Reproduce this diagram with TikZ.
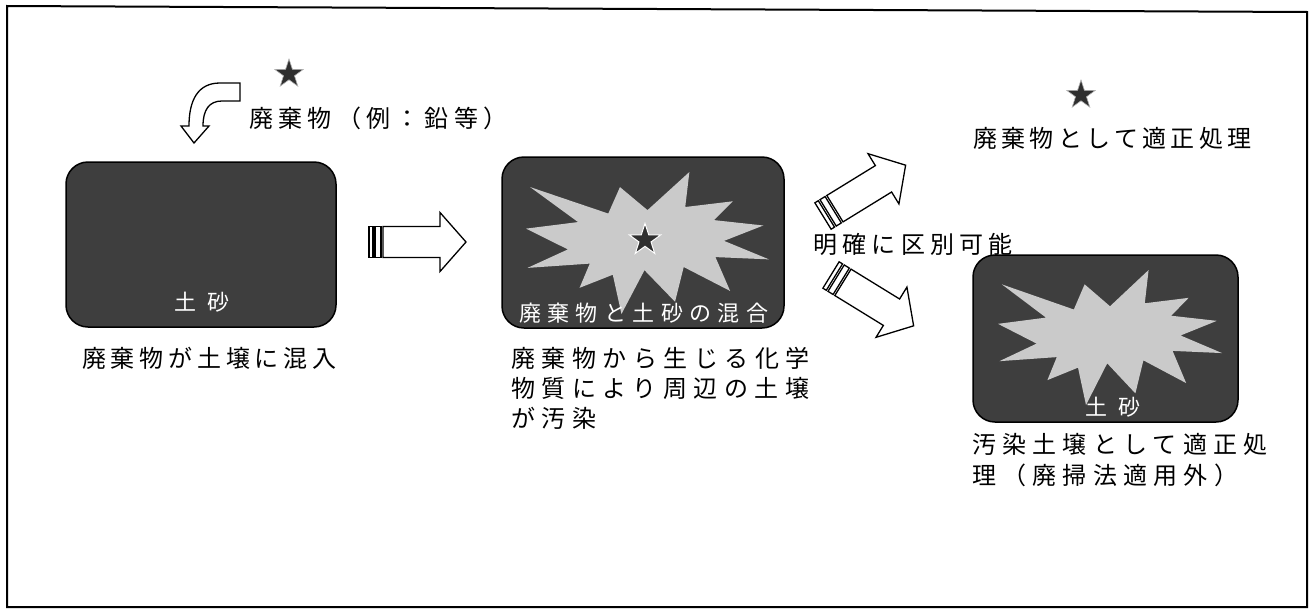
\documentclass[tikz,border=0pt]{standalone}
\usepackage{fontspec}
\usetikzlibrary{shapes.geometric}
\newfontfamily\jpn{Noto Sans CJK JP}
\newfontfamily\jpa{Noto Sans CJK JP}[LetterSpace=20]
\newfontfamily\jpb{Noto Sans CJK JP}[LetterSpace=27]
\newfontfamily\jpc{Noto Sans CJK JP}[LetterSpace=22]
\newfontfamily\jpe{Noto Sans CJK JP}[LetterSpace=18]
\newfontfamily\jpf{Noto Sans CJK JP}[LetterSpace=26]
\newfontfamily\jpd{Noto Sans CJK JP}[LetterSpace=29]
\definecolor{boxgray}{HTML}{3E3E3E}
\definecolor{burstgray}{HTML}{CACACA}
\definecolor{stargray}{HTML}{2F2F2F}
\newcommand\burstshape[4]{%
  \begin{scope}[shift={(#1,#2)},xscale=#3,yscale=#4]
    \fill[burstgray] (0.5,0.2685) -- (0.6723,0) -- (0.6553,0.2465) -- (0.8509,0.2063) -- (0.7733,0.3387) -- (0.9767,0.3767) -- (0.8151,0.4850) -- (1,0.6153) -- (0.7795,0.5992) -- (0.8400,0.8377) -- (0.6491,0.6693) -- (0.6133,0.9138) -- (0.4876,0.6914) -- (0.3928,1) -- (0.3572,0.7235) -- (0.2205,0.8156) -- (0.2624,0.6452) -- (0.0063,0.6753) -- (0.1723,0.5451) -- (0,0.3988) -- (0.2142,0.3526) -- (0.0171,0.1063) -- (0.3385,0.2926) -- (0.3867,0.1063) -- cycle;
  \end{scope}}
\tikzset{
  blockarrow/.style={draw=black,line width=1.3pt,fill=white,line join=miter},
  sarrow/.pic={
    \draw[blockarrow] (0,-15.5) rectangle (4,15.5);
    \draw[blockarrow] (6,-15.5) rectangle (12,15.5);
    \draw[blockarrow] (14,-15.5) -- (71,-15.5) -- (71,-29.5) -- (97,0) -- (71,29.5) -- (71,15.5) -- (14,15.5) -- cycle;
  }
}
\begin{document}
\begin{tikzpicture}[x=1pt,y=-1pt,
  box/.style={draw=black,line width=1.5pt,fill=boxgray,rounded corners=22pt,inner sep=0pt},
  lbl/.style={inner sep=0pt,anchor=west,text=black},
  wlbl/.style={inner sep=0pt,text=white},
  starmark/.style={star,star points=5,star point ratio=2.6,minimum size=30pt,inner sep=0pt,fill=stargray,draw=gray!60,line width=0.6pt}]
\useasboundingbox (0,0) rectangle (1309,608);
% frame
\draw[line width=2pt] (7,6) -- (1307,12) -- (1307,607) -- (7,607) -- cycle;

% boxes
\node[box,minimum width=270pt,minimum height=165pt] (box1) at (201,244.5) {};
\node[box,minimum width=282pt,minimum height=171pt] (box2) at (643,242.5) {};
\node[box,minimum width=265pt,minimum height=167pt] (box3) at (1105.5,338.5) {};

% bursts
\burstshape{526}{172}{243}{142}
\burstshape{998}{270}{224}{135}

% stars
\node[starmark] (star1) at (289,74) {};
\node[starmark] (star3) at (1081,95) {};
\node[starmark,draw=white,line width=1pt,minimum size=33pt] (star2) at (645,240) {};

% bent arrow
\draw[blockarrow] (240,83) -- (220,83) .. controls (198,83) and (189,100) .. (189,126) -- (181,126) -- (194,143) -- (209,126) -- (203,126) .. controls (203,110) and (209,101) .. (222,101) -- (240,101) -- cycle;

% striped arrows
\pic (arrowR) at (369,242) {sarrow};
\pic[rotate=31.6] (arrowU) at (823,216) {sarrow};
\pic[rotate=-31.6] (arrowD) at (831,275) {sarrow};

% white texts
\node[wlbl,font={\jpn\fontsize{22}{26}\selectfont}] (sand1) at (202,302) {土\hspace{11pt}砂};
\node[wlbl,anchor=west,font={\jpd\fontsize{22}{26}\selectfont}] (mixt) at (519,313) {廃棄物と土砂の混合};
\node[wlbl,font={\jpn\fontsize{22}{26}\selectfont}] (sand3) at (1113,407) {土\hspace{11pt}砂};

% black texts
\node[lbl,font={\jpc\fontsize{24}{30}\selectfont}] (wasteex) at (249,118) {廃棄物（例：鉛等）};
\node[lbl,font={\jpa\fontsize{24}{30}\selectfont}] (mix1) at (82,358) {廃棄物が土壌に混入};
\node[lbl,anchor=north west,align=left,font={\jpb\fontsize{24}{30}\selectfont}] (mid) at (511,347) {廃棄物から生じる化学\\物質により周辺の土壌\\が汚染};
\node[lbl,font={\jpc\fontsize{24}{30}\selectfont}] (distinct) at (813,244) {明確に区別可能};
\node[lbl,font={\jpe\fontsize{24}{30}\selectfont}] (proper) at (973,138) {廃棄物として適正処理};
\node[lbl,anchor=north west,align=left,font={\jpf\fontsize{24}{31}\selectfont}] (soil) at (972,433) {汚染土壌として適正処\\理（廃掃法適用外）};
\end{tikzpicture}
\end{document}
